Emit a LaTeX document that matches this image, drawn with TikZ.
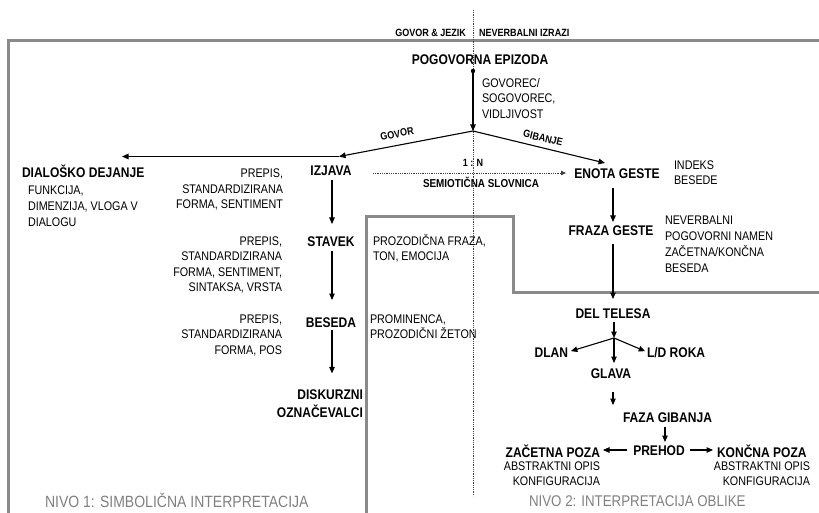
\documentclass[tikz,border=0pt]{standalone}
\usepackage{fontspec}
\setmainfont{Liberation Sans}[FakeStretch=0.86]
\usetikzlibrary{arrows.meta}
\definecolor{framegray}{RGB}{138,138,138}
\definecolor{levelgray}{RGB}{128,128,128}
\newcommand\rlines[1]{\begin{tabular}[t]{@{}r@{}}#1\end{tabular}}
\newcommand\llines[1]{\begin{tabular}[t]{@{}l@{}}#1\end{tabular}}

\begin{document}
\begin{tikzpicture}[x=1pt,y=-1pt,
  every node/.style={inner sep=0pt, outer sep=0pt},
  concept/.style={font=\fontsize{14}{18}\selectfont\bfseries, text height=10pt, text depth=0pt, anchor=base},
  conceptml/.style={font=\fontsize{14}{18}\selectfont\bfseries},
  note/.style={font=\fontsize{12.5}{15.5}\selectfont},
  header/.style={font=\fontsize{10.5}{12}\selectfont\bfseries},
  edgelabel/.style={font=\fontsize{10.5}{12}\selectfont\bfseries},
  level/.style={font=\fontsize{16.3}{18}\selectfont, text=levelgray, anchor=base west},
  arr/.style={line width=1.1pt, -{Triangle[length=6.5pt,width=5.5pt]}},
  frame/.style={framegray, line width=3pt},
  divider/.style={line width=0.8pt, black!75, dash pattern=on 0.9pt off 0.9pt},
]
\useasboundingbox (0,0) rectangle (819,513);

% panel borders
\draw[frame] (8,520) -- (8,41) -- (825,41);
\draw[frame] (366.5,520) -- (366.5,217) -- (513,217) -- (513,292) -- (825,292);

% column divider
\draw[divider] (473,10) -- (473,496);

% column headers
\node[header, anchor=base east] (hl) at (466,37) {GOVOR \& JEZIK};
\node[header, anchor=base west] (hr) at (479,37) {NEVERBALNI IZRAZI};

% conversational episode and its split
\node[concept] (pe) at (480,65) {POGOVORNA EPIZODA};
\node[note, anchor=base west] (pen) at (482,87.5) {\llines{GOVOREC/\\SOGOVOREC,\\VIDLJIVOST}};
\coordinate (dot) at (473,71);
\coordinate (apex) at (473,131);
\coordinate (izin) at (339,156.5);
\coordinate (ddin) at (122,156.5);
\coordinate (egin) at (605,163);
\fill (dot) circle[radius=2.2pt];
\draw[arr] (dot) -- (apex);
\draw[arr] (apex) -- (izin);
\draw[arr] (izin) -- (ddin);
\draw[arr] (apex) -- (egin);
\node[edgelabel, rotate=11] (lgov) at (397,134) {GOVOR};
\node[edgelabel, rotate=-13.6] (lgib) at (543,138) {GIBANJE};

% speech and language column
\node[concept, anchor=base west] (dd) at (22,178) {DIALOŠKO DEJANJE};
\node[note, anchor=base west] (ddn) at (28,195) {\fontsize{12.5}{16}\selectfont\llines{FUNKCIJA,\\DIMENZIJA, VLOGA V\\DIALOGU}};

\node[concept] (iz) at (331,176) {IZJAVA};
\node[note, anchor=base east] (izn) at (283,178) {\rlines{PREPIS,\\STANDARDIZIRANA\\FORMA, SENTIMENT}};
\node[concept] (st) at (331,246) {STAVEK};
\node[note, anchor=base east] (stn) at (282,245) {\rlines{PREPIS,\\STANDARDIZIRANA\\FORMA, SENTIMENT,\\SINTAKSA, VRSTA}};
\node[concept] (be) at (331,327) {BESEDA};
\node[note, anchor=base east] (ben) at (282,323) {\rlines{PREPIS,\\STANDARDIZIRANA\\FORMA, POS}};
\node[conceptml, anchor=base east] (dk) at (363,399) {\rlines{DISKURZNI\\OZNAČEVALCI}};

\node[note, anchor=base west] (prf) at (373,245) {\llines{PROZODIČNA FRAZA,\\TON, EMOCIJA}};
\node[note, anchor=base west] (prm) at (370,323) {\llines{PROMINENCA,\\PROZODIČNI ŽETON}};

\coordinate (cl) at (332,0);
\draw[arr, shorten <=4pt, shorten >=12pt] (iz.south -| cl) -- (st.north -| cl);
\draw[arr, shorten <=5pt, shorten >=17pt] (st.south -| cl) -- (be.north -| cl);
\draw[arr, shorten <=3pt, shorten >=13pt] (be.south -| cl) -- (dk.north -| cl);

% semiotic grammar link
\node[concept] (eg) at (617,179) {ENOTA GESTE};
\coordinate (semstart) at (373,173);
\coordinate (egdot) at (566,173);
\draw[divider, -{Triangle[length=5pt,width=4.5pt]}] (semstart) -- (egdot);
\node[edgelabel, anchor=base] (ratio) at (473,167) {1 : N};
\node[font=\fontsize{11.5}{13}\selectfont\bfseries, anchor=base] (sem) at (481,188) {SEMIOTIČNA SLOVNICA};

% non-verbal column
\node[note, anchor=base west] (egn) at (674,170) {\fontsize{12.5}{15}\selectfont\llines{INDEKS\\BESEDE}};
\node[concept] (fg) at (611,236) {FRAZA GESTE};
\node[note, anchor=base west] (fgn) at (665,225) {\fontsize{12.5}{15.7}\selectfont\llines{NEVERBALNI\\POGOVORNI NAMEN\\ZAČETNA/KONČNA\\BESEDA}};
\node[concept] (dt) at (613,318) {DEL TELESA};
\coordinate (br) at (614,338);
\node[concept, anchor=base east] (dl) at (568,357) {DLAN};
\node[concept, anchor=base west] (lr) at (647,357) {L/D ROKA};
\node[concept] (gl) at (611,378) {GLAVA};
\node[concept, anchor=base west] (fz) at (623,422) {FAZA GIBANJA};
\node[concept] (ph) at (659,455) {PREHOD};
\node[concept, anchor=base east] (zp) at (600,457) {ZAČETNA POZA};
\node[concept, anchor=base west] (kp) at (717,457) {KONČNA POZA};
\node[note, anchor=base east] (zpn) at (600,470) {\fontsize{12.5}{15}\selectfont\rlines{ABSTRAKTNI OPIS\\KONFIGURACIJA}};
\node[note, anchor=base east] (kpn) at (810,470) {\fontsize{12.5}{15}\selectfont\rlines{ABSTRAKTNI OPIS\\KONFIGURACIJA}};

\coordinate (cr) at (613,0);
\coordinate (cp) at (665,0);
\draw[arr, shorten <=9pt, shorten >=4pt] (eg.south -| cr) -- (fg.north -| cr);
\draw[arr, shorten <=8pt, shorten >=9pt] (fg.south -| cr) -- (dt.north -| cr);
\draw[arr, shorten <=4pt] (dt.south -| br) -- (br);
\draw[arr, shorten >=3pt] (br) -- (dl.east);
\draw[arr, shorten >=2pt] (br) -- (lr.west);
\draw[arr, shorten >=5pt] (br) -- (gl.north -| br);
\draw[arr, shorten <=14pt, shorten >=7pt] (gl.south -| cr) -- (fz.north -| cr);
\draw[arr, shorten <=5pt, shorten >=3pt] (fz.south -| cp) -- (ph.north -| cp);
\draw[arr, shorten <=6pt, shorten >=3pt] (ph.west) -- (ph.west -| zp.east);
\draw[arr, shorten <=5pt, shorten >=4pt] (ph.east) -- (ph.east -| kp.west);

% level captions
\node[level] (lv1) at (45,507) {NIVO 1: SIMBOLIČNA INTERPRETACIJA};
\node[level, font=\fontsize{15.5}{18}\selectfont] (lv2) at (529,506) {NIVO 2: INTERPRETACIJA OBLIKE};
\end{tikzpicture}
\end{document}
